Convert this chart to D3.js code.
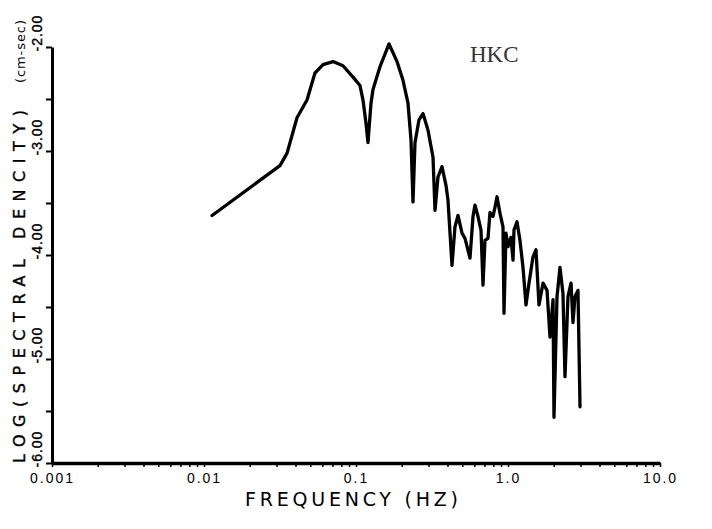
<!DOCTYPE html>
<html>
<head>
<meta charset="utf-8">
<script src="https://cdn.jsdelivr.net/npm/d3@7"></script>
<style>
  html, body { margin: 0; padding: 0; background: #fff; }
  svg { display: block; font-family: "DejaVu Sans", sans-serif; }
</style>
</head>
<body>
<script>
// spectrum of station HKC: frequency (Hz) and log10 spectral density
const freq = [
  0.0113, 0.0316, 0.0352, 0.0409, 0.0476, 0.0537, 0.0607, 0.0706, 0.0821, 0.0956,
  0.1062, 0.1112, 0.1163, 0.1199, 0.1255, 0.1293, 0.1438, 0.1649, 0.1861, 0.2038,
  0.2198, 0.2300, 0.2371, 0.2444, 0.2597, 0.2759, 0.2977, 0.3211, 0.3309, 0.3463,
  0.3679, 0.3908, 0.4028, 0.4281, 0.4479, 0.4689, 0.4982, 0.5213, 0.5623, 0.5884,
  0.6066, 0.6348, 0.6644, 0.6847, 0.7057, 0.7384, 0.7613, 0.7968, 0.8214, 0.8465,
  0.8859, 0.9270, 0.9412, 0.9701, 1.000, 1.046, 1.079, 1.095, 1.146, 1.199,
  1.255, 1.313, 1.375, 1.460, 1.528, 1.599, 1.700, 1.806, 1.890, 1.978,
  2.007, 2.101, 2.198, 2.300, 2.371, 2.481, 2.597, 2.677, 2.759, 2.887,
  2.977
];
const logDensity = [
  -3.62, -3.14, -3.02, -2.68, -2.51, -2.25, -2.17, -2.14, -2.18, -2.29,
  -2.37, -2.51, -2.73, -2.92, -2.54, -2.41, -2.19, -1.97, -2.14, -2.32,
  -2.54, -2.89, -3.49, -2.92, -2.70, -2.64, -2.80, -3.06, -3.57, -3.25,
  -3.15, -3.33, -3.47, -4.10, -3.73, -3.62, -3.79, -3.84, -4.03, -3.63,
  -3.52, -3.63, -3.76, -4.29, -3.86, -3.84, -3.59, -3.63, -3.54, -3.44,
  -3.60, -3.73, -4.56, -3.79, -3.92, -3.83, -4.05, -3.76, -3.68, -3.86,
  -4.12, -4.48, -4.27, -4.02, -3.95, -4.48, -4.27, -4.34, -4.79, -4.43,
  -5.56, -4.40, -4.12, -4.37, -5.17, -4.40, -4.27, -4.65, -4.40, -4.34,
  -5.46
];

// axis ticks
const decadeLabels = ["0.001", "0.01", "0.1", "1.0", "10.0"];
const decades = [0.001, 0.01, 0.1, 1, 10];
const yTicks = [-6, -5.5, -5, -4.5, -4, -3.5, -3, -2.5, -2];

const width = 712, height = 529;

const data = freq.map((f, i) => ({f, v: logDensity[i]}));

const x = d3.scaleLog().domain([0.001, 10]).range([52, 660]);
const y = d3.scaleLinear().domain([-6, -2]).range([463, 47]);

const svg = d3.select("body").append("svg")
    .attr("width", width)
    .attr("height", height)
    .attr("viewBox", [0, 0, width, height]);

// x ticks at 1..9 of every decade, labels only on decades
const xTickVals = [];
decades.slice(0, 4).forEach(d => { for (let k = 1; k < 10; k++) xTickVals.push(d * k); });
xTickVals.push(10);

const xAxis = d3.axisBottom(x)
    .tickValues(xTickVals)
    .tickSize(4)
    .tickSizeOuter(0)
    .tickFormat(d => {
      const i = decades.findIndex(v => Math.abs(v - d) < d * 1e-6);
      return i >= 0 ? decadeLabels[i] : "";
    });

const gx = svg.append("g")
    .attr("transform", `translate(0,${y(-6)})`)
    .call(xAxis);

gx.select(".domain").attr("stroke-width", 3.5);
gx.selectAll(".tick line").attr("stroke-width", 1.5);
gx.selectAll(".tick text")
    .attr("y", 20)
    .attr("dy", 0)
    .attr("font-size", 14)
    .attr("letter-spacing", 2)
    .attr("fill", "#000");

const yAxis = d3.axisLeft(y)
    .tickValues(yTicks)
    .tickSize(6)
    .tickSizeOuter(0)
    .tickFormat(d => Number.isInteger(d) ? d.toFixed(2) : "");

const gy = svg.append("g")
    .attr("transform", `translate(${x(0.001)},0)`)
    .call(yAxis);

gy.select(".domain").attr("stroke-width", 3);
gy.selectAll(".tick line").attr("stroke-width", 2);
gy.selectAll(".tick text")
    .attr("transform", "rotate(-90)")
    .attr("x", -4)
    .attr("y", -10)
    .attr("dy", 0)
    .attr("text-anchor", "start")
    .attr("font-size", 14)
    .attr("letter-spacing", 1)
    .attr("stroke", "#000")
    .attr("stroke-width", 0.4)
    .attr("fill", "#000");

// axis titles
svg.append("text")
    .attr("x", 245)
    .attr("y", 506)
    .attr("font-size", 19)
    .attr("textLength", 213)
    .attr("lengthAdjust", "spacing")
    .text("FREQUENCY  (HZ)");

svg.append("text")
    .attr("transform", "translate(25,463) rotate(-90)")
    .attr("font-size", 16)
    .attr("stroke", "#000")
    .attr("stroke-width", 0.4)
    .attr("textLength", 353)
    .attr("lengthAdjust", "spacing")
    .text("LOG(SPECTRAL DENCITY)");

svg.append("text")
    .attr("transform", "translate(25,83) rotate(-90)")
    .attr("font-size", 13)
    .attr("textLength", 63)
    .attr("lengthAdjust", "spacing")
    .text("(cm-sec)");

// station name
svg.append("text")
    .attr("x", 470)
    .attr("y", 62)
    .attr("font-family", "Liberation Serif, serif")
    .attr("font-size", 23)
    .attr("fill", "#333")
    .text("HKC");

const line = d3.line()
    .x(d => x(d.f))
    .y(d => y(d.v));

svg.append("path")
    .datum(data)
    .attr("fill", "none")
    .attr("stroke", "black")
    .attr("stroke-width", 3.3)
    .attr("stroke-linejoin", "round")
    .attr("stroke-linecap", "round")
    .attr("d", line);
</script>
</body>
</html>
